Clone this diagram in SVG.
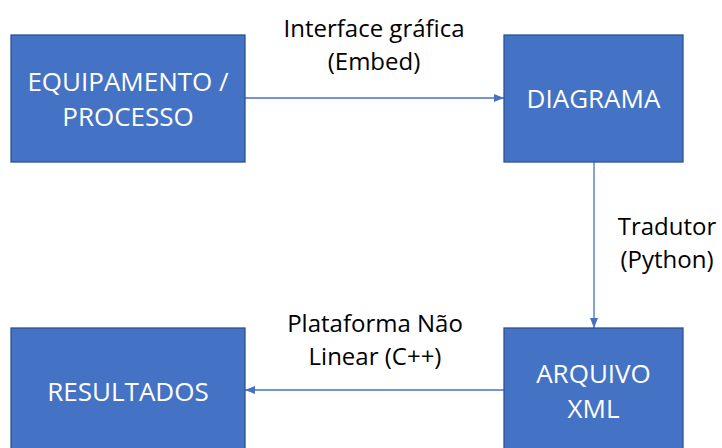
<svg xmlns="http://www.w3.org/2000/svg" width="722" height="448" viewBox="0 0 722 448">
<style>
.box{fill:#4472C4;stroke:#2F528F;stroke-width:1.3}
.bt{font-family:"Open Sans","Liberation Sans",sans-serif;font-size:26px;fill:#FFFFFF;text-anchor:middle}
.lt{font-family:"Open Sans","Liberation Sans",sans-serif;font-size:24px;fill:#000000;text-anchor:middle}
.con{stroke:#4472C4;stroke-width:1.3;fill:none;marker-end:url(#ah)}
</style>
<defs>
<marker id="ah" markerWidth="10" markerHeight="8" refX="10" refY="4" orient="auto" markerUnits="userSpaceOnUse">
<path d="M0,0 L10,4 L0,8 Z" fill="#4472C4"/>
</marker>
</defs>
<rect width="722" height="448" fill="#FFFFFF"/>
<g id="connectors">
<line class="con" x1="245" y1="98" x2="504" y2="98"/>
<line class="con" x1="594" y1="162" x2="594" y2="328"/>
<line class="con" x1="504" y1="390" x2="245" y2="390"/>
<text class="lt" x="374" y="37">Interface gráfica</text>
<text class="lt" x="374" y="70">(Embed)</text>
<text class="lt" x="667" y="235">Tradutor</text>
<text class="lt" x="667" y="268">(Python)</text>
<text class="lt" x="375" y="332">Plataforma Não</text>
<text class="lt" x="375" y="365">Linear (C++)</text>
</g>
<g id="n1"><rect class="box" x="11" y="35" width="234" height="127"/>
<text class="bt" x="128" y="91">EQUIPAMENTO /</text>
<text class="bt" x="128" y="126">PROCESSO</text></g>
<g id="n2"><rect class="box" x="504" y="35" width="179" height="127"/>
<text class="bt" x="593.5" y="108">DIAGRAMA</text></g>
<g id="n3"><rect class="box" x="504" y="328" width="179" height="127"/>
<text class="bt" x="593.5" y="383">ARQUIVO</text>
<text class="bt" x="593.5" y="418">XML</text></g>
<g id="n4"><rect class="box" x="11" y="328" width="234" height="127"/>
<text class="bt" x="128" y="401">RESULTADOS</text></g>
</svg>
